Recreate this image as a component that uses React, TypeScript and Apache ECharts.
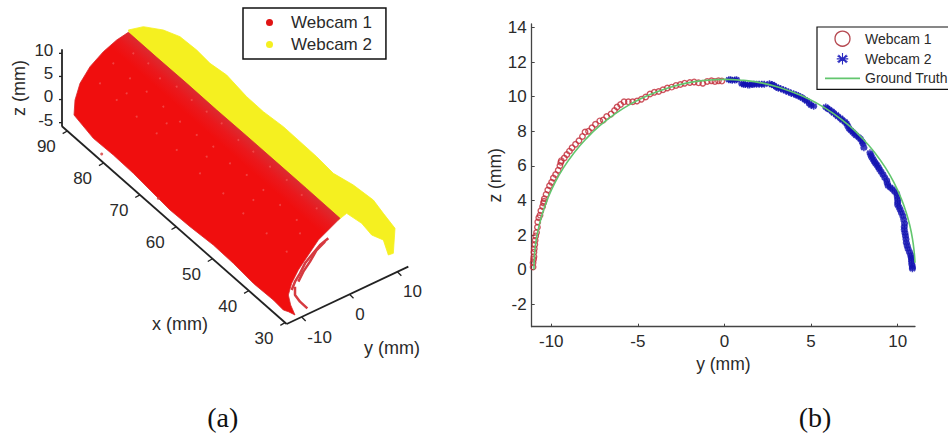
import React, { useEffect, useRef } from "react";
import * as echarts from "echarts";

const seriesNames = ["Webcam 1", "Webcam 2", "Ground Truth"];

// ---- panel (a): silhouettes of the 3-D clouds (projected plane units)
const cloud1Outline = [[385,97],[470,172],[560,250],[650,330],[740,408],[830,487],[920,566],[1020,655],[985,690],[955,720],[925,765],[895,810],[875,850],[865,885],[872,915],[885,945],[865,935],[850,930],[820,900],[760,850],[700,790],[640,735],[570,680],[510,630],[470,590],[400,520],[340,465],[280,415],[222,345],[225,300],[240,250],[270,200],[310,155],[350,120]];
const cloud2Outline = [[385,90],[430,80],[490,90],[540,110],[590,150],[630,190],[680,225],[740,290],[790,335],[850,380],[900,425],[950,470],[1000,520],[1060,555],[1120,600],[1150,640],[1185,685],[1180,760],[1165,765],[1150,720],[1115,705],[1085,670],[1040,640],[1015,660],[700,400],[400,130]];
const cloud1Strips = [
  [[975,725],[950,750],[930,785],[910,815],[895,845]],
  [[985,715],[960,735],[935,765],[915,790],[900,820],[885,845],[875,870]],
  [[885,860],[885,885],[900,905],[922,925]],
];
const cloud1Stray = [[305,462],[475,595]];
const cloud1Specks = [[400,160],[445,190],[480,235],[530,260],[575,300],[620,335],[665,370],[715,420],[760,455],[810,500],[860,540],[905,585],[950,625],[340,190],[390,235],[440,275],[490,320],[540,365],[590,405],[640,440],[690,490],[740,525],[790,570],[840,615],[890,660],[300,250],[350,300],[410,350],[470,400],[530,450],[600,520],[670,580],[730,640],[800,700],[860,755],[900,700],[760,600],[620,470],[500,370],[380,280]];

// ---- panel (a): axes
const xTicks3d = [30, 40, 50, 60, 70, 80, 90];
const yTicks3d = [-10, 0, 10];
const zTicks3d = [-5, 0, 5, 10];
const xAxis3dLine = [[860,972],[185,378]];
const yAxis3dLine = [[860,972],[1225,800]];
const zAxis3dLine = [[186,148],[186,378]];

// ---- panel (b)
const yTicks2d = [-10, -5, 0, 5, 10];
const zTicks2d = [-2, 0, 2, 4, 6, 8, 10, 12, 14];
const webcam1Points = [[-11.05,0.15],[-11.05,0.4],[-11.02,0.6],[-11,0.75],[-11,1.0],[-10.98,1.2],[-10.95,1.45],[-10.93,1.7],[-10.9,1.95],[-10.85,2.15],[-10.8,2.45],[-10.78,2.75],[-10.72,3.0],[-10.65,3.15],[-10.6,3.4],[-10.5,3.65],[-10.45,3.85],[-10.42,3.95],[-10.4,4.1],[-10.3,4.35],[-10.2,4.6],[-10.1,4.85],[-9.98,5.05],[-9.88,5.3],[-9.75,5.5],[-9.6,5.75],[-9.5,6.0],[-9.45,6.2],[-9.42,6.3],[-9.25,6.45],[-9.1,6.65],[-8.95,6.85],[-8.8,7.05],[-8.6,7.25],[-8.4,7.45],[-8.2,7.7],[-8.05,7.95],[-7.85,8.0],[-7.65,8.2],[-7.45,8.4],[-7.2,8.6],[-7,8.65],[-6.8,8.85],[-6.55,9.0],[-6.35,9.2],[-6.2,9.4],[-6,9.55],[-5.8,9.7],[-5.55,9.7],[-5.3,9.7],[-5.05,9.75],[-4.8,9.85],[-4.55,9.98],[-4.3,10.15],[-4.05,10.25],[-3.8,10.3],[-3.55,10.4],[-3.3,10.5],[-3.05,10.55],[-2.8,10.65],[-2.55,10.7],[-2.3,10.78],[-2,10.82],[-1.75,10.85],[-1.5,10.8],[-1.25,10.78],[-1.0,10.88],[-0.75,10.92],[-0.55,10.88],[-0.35,10.92],[-0.15,10.9]];
const webcam2Points = [[0.25,10.98],[0.35,10.97],[0.45,10.95],[0.6,10.96],[0.7,10.98],[1.0,10.75],[1.1,10.72],[1.2,10.7],[1.35,10.68],[1.45,10.68],[1.6,10.7],[1.7,10.72],[1.85,10.72],[2.0,10.72],[2.15,10.72],[2.3,10.72],[2.6,10.75],[2.75,10.7],[2.85,10.65],[3.0,10.55],[3.1,10.5],[3.25,10.45],[3.4,10.4],[3.55,10.33],[3.7,10.27],[3.85,10.2],[4.0,10.15],[4.15,10.1],[4.25,10.05],[4.4,9.98],[4.5,9.92],[4.65,9.82],[4.75,9.75],[4.9,9.6],[5.0,9.5],[5.15,9.45],[5.85,9.4],[5.95,9.32],[6.05,9.25],[6.2,9.15],[6.3,9.05],[6.45,8.95],[6.55,8.85],[6.7,8.75],[6.8,8.65],[6.95,8.55],[7.05,8.44],[7.12,8.3],[7.2,8.15],[7.3,8.05],[7.4,7.95],[7.5,7.85],[7.6,7.75],[7.75,7.65],[7.85,7.55],[7.95,7.4],[8.0,7.28],[8.05,7.05],[8.4,6.75],[8.45,6.62],[8.5,6.5],[8.58,6.38],[8.65,6.25],[8.72,6.15],[8.8,6.05],[8.88,5.92],[8.95,5.8],[9.05,5.65],[9.15,5.5],[9.25,5.32],[9.36,5.16],[9.4,5.0],[9.45,4.85],[9.58,4.75],[9.7,4.65],[9.82,4.52],[9.94,4.39],[9.98,4.22],[10.0,4.05],[10.0,3.9],[10.0,3.75],[10.08,3.6],[10.15,3.45],[10.22,3.28],[10.3,3.1],[10.35,2.88],[10.4,2.66],[10.38,2.48],[10.38,2.3],[10.42,2.12],[10.45,1.95],[10.48,1.75],[10.5,1.56],[10.55,1.38],[10.6,1.2],[10.68,1.02],[10.75,0.85],[10.78,0.72],[10.8,0.6],[10.8,0.45],[10.82,0.3],[10.85,0.15],[10.85,0.05]];
const groundTruthPoints = [[-11,0],[-10.95,1.05],[-10.85,1.81],[-10.7,2.55],[-10.5,3.28],[-10.2,4.12],[-9.8,5.0],[-9.3,5.88],[-8.7,6.73],[-8,7.55],[-7.2,8.32],[-6.3,9.02],[-5.4,9.58],[-4.4,10.08],[-3.3,10.49],[-2.2,10.78],[-1.1,10.94],[0,11],[1.1,10.94],[2.2,10.78],[3.3,10.49],[4.4,10.08],[5.4,9.58],[6.3,9.02],[7.2,8.32],[8,7.55],[8.7,6.73],[9.3,5.88],[9.8,5.0],[10.2,4.12],[10.5,3.28],[10.7,2.55],[10.85,1.81],[10.95,1.05],[11,0.4]];

const ASTERISK = "path://M0 -10V10M-8.7 -5L8.7 5M-8.7 5L8.7 -5M-10 0H10M-7 -7L7 7M-7 7L7 -7";
const ASTERISK_LEGEND = "path://M-13 -13L-13 -13M13 13L13 13M0 -10V10M-8.7 -5L8.7 5M-8.7 5L8.7 -5M-10 0H10M-7 -7L7 7M-7 7L7 -7";
const DOT_LEGEND = "path://M-16.5 -8.5L-16.5 -8.5M16.5 8.5L16.5 8.5M-3.5 0A3.5 3.5 0 1 0 3.5 0A3.5 3.5 0 1 0 -3.5 0Z";
const LINE_LEGEND = "path://M-17.5 -7.5L-17.5 -7.5M17.5 7.5L17.5 7.5M-17.5 -0.8H17.5V0.8H-17.5Z";
const FONT = "Liberation Sans, Arial, sans-serif";
const INK = "#2a2a2a";

const along = (a: number[], b: number[], t: number) => [a[0] + (b[0] - a[0]) * t, a[1] + (b[1] - a[1]) * t];

const polygonSeries = (name: string, pts: number[][], fill: any, stroke: string, z: number) => ({
  type: "custom", name, xAxisIndex: 0, yAxisIndex: 0, z, silent: true, coordinateSystem: "cartesian2d",
  data: pts,
  renderItem: (params: any, api: any) => {
    if (params.dataIndex !== 0) return { type: "group", children: [] };
    return {
      type: "polygon",
      shape: { points: pts.map((p) => api.coord(p)) },
      style: { fill, stroke, lineWidth: 0.8, lineJoin: "round" },
    };
  },
});

// Tick marks + labels of a projected axis. `at` maps tick value to plane units.
const tickSeries = (ticks: number[], at: (v: number) => number[], dir: number[], off: number[], align: string) => ({
  type: "custom", xAxisIndex: 0, yAxisIndex: 0, z: 6, silent: true,
  data: ticks.map((t) => [...at(t), t]),
  renderItem: (_: any, api: any) => {
    const p = [api.value(0), api.value(1)];
    const a = api.coord(p);
    const b = api.coord([p[0] + dir[0], p[1] + dir[1]]);
    const l = api.coord([p[0] + off[0], p[1] + off[1]]);
    return {
      type: "group",
      children: [
        { type: "line", shape: { x1: a[0], y1: a[1], x2: b[0], y2: b[1] }, style: { stroke: "#222", lineWidth: 1.3 } },
        { type: "text", x: l[0], y: l[1], style: { text: String(api.value(2)), fill: INK, font: `17px ${FONT}`, align, verticalAlign: "middle" } },
      ],
    };
  },
});

const axisLine3d = (data: number[][]) => ({
  type: "line", xAxisIndex: 0, yAxisIndex: 0, data, showSymbol: false, silent: true, z: 6,
  lineStyle: { color: "#222", width: 1.8 },
});

function buildOption() {
  const xAt = (v: number) => along([855, 968], [202, 393], (v - 30) / 60);
  const yAt = (v: number) => along([905, 951], [1192, 815], (v + 10) / 20);
  const zAt = (v: number) => along([186, 368], [186, 160], (v + 5) / 15);
  const cloud1Fill = new echarts.graphic.LinearGradient(128, 32, 113, 49, [
    { offset: 0, color: "#dc2a30" },
    { offset: 0.5, color: "#ea181c" },
    { offset: 1, color: "#f00e0e" },
  ], true);
  return {
    animation: false,
    backgroundColor: "#fff",
    textStyle: { fontFamily: FONT },
    grid: [
      { left: 0, top: 0, width: 470, height: 433 },
      { left: 531.7, top: 24, width: 383.3, height: 302.7 },
    ],
    xAxis: [
      { type: "value", gridIndex: 0, min: 0, max: 1410, show: false },
      {
        type: "value", gridIndex: 1, min: -11.13, max: 11, splitLine: { show: false },
        axisLine: { onZero: false, lineStyle: { color: "#444", width: 1.3 } },
        axisTick: { inside: true, length: 3, customValues: yTicks2d, lineStyle: { color: "#444" } },
        axisLabel: { customValues: yTicks2d, color: INK, fontSize: 17, margin: 6, fontFamily: FONT },
        name: "y (mm)", nameLocation: "middle", nameGap: 22,
        nameTextStyle: { color: INK, fontSize: 17.5, fontFamily: FONT },
      },
    ],
    yAxis: [
      { type: "value", gridIndex: 0, min: 0, max: 1299, inverse: true, show: false },
      {
        type: "value", gridIndex: 1, min: -3.3, max: 14.2, splitLine: { show: false },
        axisLine: { onZero: false, lineStyle: { color: "#444", width: 1.3 } },
        axisTick: { inside: true, length: 3, customValues: zTicks2d, lineStyle: { color: "#444" } },
        axisLabel: { customValues: zTicks2d, color: INK, fontSize: 17, margin: 5, fontFamily: FONT },
        name: "z (mm)", nameLocation: "middle", nameGap: 27,
        nameTextStyle: { color: INK, fontSize: 17.5, fontFamily: FONT },
      },
    ],
    legend: [
      {
        left: 243, top: 8, orient: "vertical", selectedMode: false,
        padding: [6, 14, 6, 10], itemGap: 5, itemWidth: 33, itemHeight: 17,
        backgroundColor: "#fff", borderColor: "#111", borderWidth: 1.5,
        textStyle: { fontSize: 17, color: INK, fontFamily: FONT },
        data: [
          { name: seriesNames[0], icon: DOT_LEGEND, itemStyle: { color: "#e01414", borderWidth: 0 } },
          { name: seriesNames[1], icon: DOT_LEGEND, itemStyle: { color: "#f5f020", borderWidth: 0 } },
        ],
      },
      {
        left: 817, top: 27, orient: "vertical", selectedMode: false,
        padding: [3.5, 14, 3.5, 8], itemGap: 4, itemWidth: 35, itemHeight: 15,
        backgroundColor: "#fff", borderColor: "#111", borderWidth: 1.2,
        textStyle: { fontSize: 14, color: INK, fontFamily: FONT },
        data: [
          { name: seriesNames[0], icon: "circle", itemStyle: { color: "rgba(255,255,255,0)", borderColor: "#b5474f", borderWidth: 1.3 } },
          { name: seriesNames[1], icon: ASTERISK_LEGEND, itemStyle: { color: "#2a2ac0", borderColor: "#2a2ac0", borderWidth: 1.1 } },
          { name: seriesNames[2], icon: LINE_LEGEND, itemStyle: { color: "#62c66e", borderWidth: 0 } },
        ],
      },
    ],
    series: [
      polygonSeries("Webcam 2", cloud2Outline, "#f5f020", "#f5f020", 2),
      polygonSeries("Webcam 1", cloud1Outline, cloud1Fill, "#d8282c", 3),
      ...cloud1Strips.map((s) => ({
        type: "line", name: "Webcam 1 end", xAxisIndex: 0, yAxisIndex: 0, data: s, showSymbol: false, silent: true, z: 3,
        lineStyle: { color: "#d63a40", width: 2.5 },
      })),
      {
        type: "scatter", name: "Webcam 1 stray", xAxisIndex: 0, yAxisIndex: 0, data: cloud1Stray, symbolSize: 3, silent: true, z: 3,
        itemStyle: { color: "#d43a3a" },
      },
      {
        type: "scatter", name: "Webcam 1 specks", xAxisIndex: 0, yAxisIndex: 0, data: cloud1Specks, symbolSize: 2, silent: true, z: 3,
        itemStyle: { color: "#f25050" },
      },
      axisLine3d(xAxis3dLine),
      axisLine3d(yAxis3dLine),
      axisLine3d(zAxis3dLine),
      tickSeries(xTicks3d, xAt, [-14, 8], [-63, 46], "center"),
      tickSeries(yTicks3d, yAt, [12, 12], [17, 60], "left"),
      tickSeries(zTicks3d, zAt, [-9, 0], [-26, -8], "right"),

      {
        type: "line", name: "Ground Truth", xAxisIndex: 1, yAxisIndex: 1, data: groundTruthPoints, smooth: true, symbol: "none", z: 5, silent: true,
        lineStyle: { color: "#62c66e", width: 1.6 }, itemStyle: { color: "#62c66e" },
      },
      {
        type: "scatter", name: "Webcam 1", xAxisIndex: 1, yAxisIndex: 1, data: webcam1Points, symbol: "circle", symbolSize: 5.5, z: 4, silent: true,
        itemStyle: { color: "rgba(255,255,255,0)", borderColor: "#c22c38", borderWidth: 1.4 },
      },
      {
        type: "scatter", name: "Webcam 2", xAxisIndex: 1, yAxisIndex: 1, data: webcam2Points, symbol: ASTERISK, symbolSize: 7, z: 4, silent: true,
        itemStyle: { color: "#1010b0", borderColor: "#1010b0", borderWidth: 1.5 },
      },
    ],
    graphic: [
      { type: "text", x: 19, y: 88, rotation: Math.PI / 2, style: { text: "z (mm)", fill: INK, font: `18px ${FONT}`, align: "center", verticalAlign: "middle" } },
      { type: "text", x: 180, y: 324, style: { text: "x (mm)", fill: INK, font: `18px ${FONT}`, align: "center", verticalAlign: "middle" } },
      { type: "text", x: 392, y: 348, style: { text: "y (mm)", fill: INK, font: `18px ${FONT}`, align: "center", verticalAlign: "middle" } },
      { type: "text", x: 222.7, y: 417, style: { text: "(a)", fill: "#111", font: `28px Liberation Serif, serif`, align: "center", verticalAlign: "middle" } },
      { type: "text", x: 815, y: 417, style: { text: "(b)", fill: "#111", font: `28px Liberation Serif, serif`, align: "center", verticalAlign: "middle" } },
    ],
  };
}

export default function App() {
  const ref = useRef<HTMLDivElement>(null);
  useEffect(() => {
    document.body.style.margin = "0";
    const chart = echarts.init(ref.current!, undefined, { renderer: "svg" });
    chart.setOption(buildOption() as any);
    return () => chart.dispose();
  }, []);
  return <div ref={ref} style={{ width: 948, height: 433, overflow: "hidden" }} />;
}
